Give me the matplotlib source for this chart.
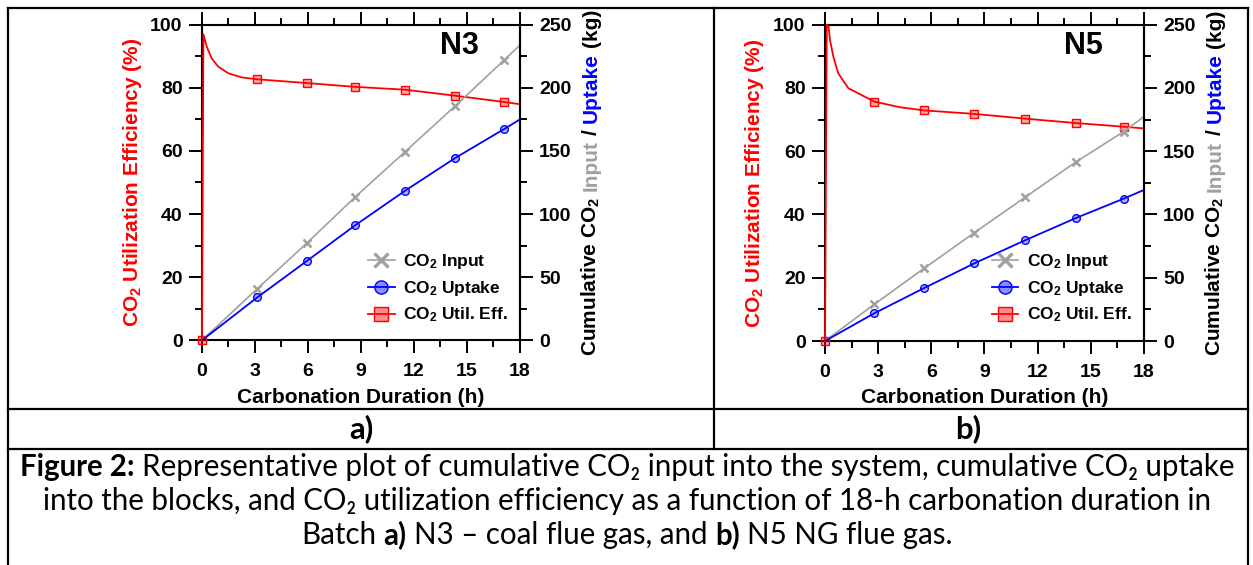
import matplotlib
matplotlib.use("Agg")
import matplotlib.pyplot as plt
from matplotlib.lines import Line2D
from matplotlib.ticker import MultipleLocator

# ---------------- data ----------------
# Batch N3 (coal flue gas)
n3_t_marks = [0, 3.13, 5.96, 8.67, 11.5, 14.33, 17.12]
n3_eff_marks = [0, 82.7, 81.5, 80.3, 79.4, 77.5, 75.5]
n3_input_line = [0, 40.9, 77.3, 113.5, 149.4, 185.6, 222.2, 233.9]
n3_uptake_line = [0, 34.0, 63.1, 91.1, 118.5, 144.4, 167.5, 175.0]
n3_eff_curve_t = [0, 0.08, 0.27, 0.55, 0.92, 1.49, 2.25, 3.13, 5.96, 8.67, 11.5, 14.33, 17.12, 18]
n3_eff_curve = [0, 97.0, 93.0, 89.3, 86.7, 84.6, 83.3, 82.7, 81.5, 80.3, 79.4, 77.5, 75.5, 74.8]

# Batch N5 (NG flue gas)
n5_t_marks = [0, 2.78, 5.6, 8.43, 11.29, 14.16, 16.85]
n5_eff_marks = [0, 75.7, 72.9, 71.8, 70.3, 68.9, 67.75]
n5_input_line = [0, 29.0, 57.5, 85.6, 113.6, 141.5, 165.5, 177.3]
n5_uptake_line = [0, 21.9, 41.9, 61.4, 79.6, 97.2, 112.5, 119.4]
n5_eff_curve_t = [0, 0.1, 0.2, 0.28, 0.47, 0.75, 1.32, 2.78, 4.23, 5.6, 8.43, 11.29, 14.16, 16.85, 18]
n5_eff_curve = [0, 100.0, 99.5, 95.2, 89.9, 84.6, 79.9, 75.7, 73.9, 72.9, 71.8, 70.3, 68.9, 67.75, 67.2]

t_end = 18
panel_tags = ["N3", "N5"]
panel_letters = ["a)", "b)"]
legend_labels = ["CO$_2$ Input", "CO$_2$ Uptake", "CO$_2$ Util. Eff."]
xlabel = "Carbonation Duration (h)"
ylabel_left = "CO$_2$ Utilization Efficiency (%)"

caption_lines = [
    [("Figure 2:", "bold"), None,
     ("Representative plot of cumulative CO\u2082 input into the system, cumulative CO\u2082 uptake", "normal")],
    [("into the blocks, and CO\u2082 utilization efficiency as a function of 18-h carbonation duration in", "normal")],
    [("Batch", "normal"), None, ("a)", "bold"), None, ("N3 \u2013 coal flue gas, and", "normal"), None,
     ("b)", "bold"), None, ("N5 NG flue gas.", "normal")],
]

# ---------------- style ----------------
plt.rcParams["font.family"] = ["Liberation Sans", "DejaVu Sans"]
plt.rcParams["font.weight"] = "bold"
plt.rcParams["mathtext.fontset"] = "custom"
plt.rcParams["mathtext.rm"] = "Liberation Sans:bold"
plt.rcParams["mathtext.bf"] = "Liberation Sans:bold"
plt.rcParams["mathtext.it"] = "Liberation Sans:bold"
plt.rcParams["mathtext.default"] = "rm"

RED = "#FF0000"
BLUE = "#0000FF"
GRAY = "#A0A0A0"
CAP_FONT = ["Lato", "DejaVu Sans"]

W, H = 1253, 565
fig = plt.figure(figsize=(W / 100, H / 100), dpi=100)
renderer = fig.canvas.get_renderer()


def measure(s, **kw):
    t = fig.text(0, 0, s, **kw)
    w = t.get_window_extent(renderer=renderer).width
    t.remove()
    return w


def adv(s, **kw):
    return measure("|" + s + "|", **kw) - measure("||", **kw)


def row_width(pieces, size, family):
    total = 0
    for p in pieces:
        if p is None:
            total += adv(" ", fontsize=size, family=family, fontweight="normal")
        else:
            total += adv(p[0], fontsize=size, family=family, fontweight=p[1])
    return total


def place_row(pieces, xc, ybase, size, family):
    total = row_width(pieces, size, family)
    x = xc - total / 2
    for p in pieces:
        if p is None:
            x += adv(" ", fontsize=size, family=family, fontweight="normal")
            continue
        fig.text(x / W, 1 - ybase / H, p[0], fontsize=size, family=family,
                 fontweight=p[1], ha="left", va="baseline")
        x += adv(p[0], fontsize=size, family=family, fontweight=p[1])


def place_col(pieces, xbase, yc, size):
    # rotated 90 deg text made of coloured pieces, reading bottom -> top
    advs = []
    for p in pieces:
        if p is None:
            advs.append(adv(" ", fontsize=size))
        else:
            advs.append(adv(p[0], fontsize=size))
    total = sum(advs)
    y = yc + total / 2
    for p, a in zip(pieces, advs):
        if p is not None:
            fig.text(xbase / W, 1 - y / H, p[0], fontsize=size, color=p[1],
                     rotation=90, rotation_mode="anchor", ha="left", va="baseline")
        y -= a


def line(x0, y0, x1, y1, lw=1.6):
    fig.add_artist(Line2D([x0 / W, x1 / W], [1 - y0 / H, 1 - y1 / H],
                          transform=fig.transFigure, color="black", lw=lw,
                          solid_capstyle="projecting"))


def panel(left_px, right_px, top_px, bottom_px, t_marks, eff_marks, input_line,
          uptake_line, eff_t, eff_v, tag):
    rect = [left_px / W, 1 - bottom_px / H, (right_px - left_px) / W, (bottom_px - top_px) / H]
    ax = fig.add_axes(rect)
    ax2 = ax.twinx()
    t_line = list(t_marks) + [t_end]

    # efficiency (left axis)
    ax.plot(eff_t, eff_v, color=RED, lw=1.3, zorder=3, clip_on=False)
    ax.plot(t_marks, eff_marks, ls="none", marker="s", ms=5.8, mew=1.0,
            mec=RED, mfc=(1, 0, 0, 0.35), zorder=4, clip_on=False)

    # cumulative input / uptake (right axis)
    ax2.plot(t_line, input_line, color=GRAY, lw=1.2, marker="x", ms=5.5, mew=1.8,
             markevery=slice(1, len(t_marks)))
    ax2.plot(t_line, uptake_line, color=BLUE, lw=1.3, marker="o", ms=5.5, mew=1.0,
             mec=BLUE, mfc=(0, 0, 1, 0.3), markevery=slice(1, len(t_marks)))

    ax.set_xlim(0, t_end)
    ax.set_ylim(0, 100)
    ax2.set_ylim(0, 250)
    ax.xaxis.set_major_locator(MultipleLocator(3))
    ax.xaxis.set_minor_locator(MultipleLocator(1.5))
    ax.yaxis.set_major_locator(MultipleLocator(20))
    ax.yaxis.set_minor_locator(MultipleLocator(10))
    ax2.yaxis.set_major_locator(MultipleLocator(50))
    ax2.yaxis.set_minor_locator(MultipleLocator(25))

    for a in (ax, ax2):
        a.tick_params(which="major", direction="out", length=9.4, width=1.4, labelsize=14)
        a.tick_params(which="minor", direction="out", length=5.0, width=1.4)
    ax.tick_params(axis="x", which="both", top=True, bottom=True, labeltop=False)
    ax.tick_params(axis="x", which="major", pad=7.0)
    ax.tick_params(axis="y", which="major", pad=4.6)
    ax2.tick_params(axis="y", which="major", pad=4.3)

    for s in ax.spines.values():
        s.set_linewidth(1.5)
    for k in ("left", "top", "bottom"):
        ax2.spines[k].set_visible(False)
    ax2.spines["right"].set_linewidth(1.5)

    ax.text(0.81, 0.933, tag, transform=ax.transAxes, ha="center", va="center",
            fontsize=22, fontweight="bold")

    handles = [
        Line2D([], [], color=GRAY, lw=1.2, marker="x", ms=9.5, mew=2.4),
        Line2D([], [], color=BLUE, lw=1.3, marker="o", ms=9.5, mew=1.0,
               mec=BLUE, mfc=(0, 0, 1, 0.45)),
        Line2D([], [], color=RED, lw=1.3, marker="s", ms=9.5, mew=1.0,
               mec=RED, mfc=(1, 0, 0, 0.45)),
    ]
    lx = 0.522
    ly = (bottom_px - 252) / (bottom_px - top_px)
    ax2.legend(handles, legend_labels, loc="upper left", bbox_to_anchor=(lx, ly),
               frameon=False, fontsize=12.5, handlelength=1.55, handletextpad=0.48,
               labelspacing=0.45, borderpad=0, borderaxespad=0)

    xc = (left_px + right_px) / 2
    yc = (top_px + bottom_px) / 2
    fig.text(xc / W, 1 - 402.7 / H, xlabel, ha="center", va="baseline", fontsize=15)
    fig.text((left_px - 70) / W, 1 - yc / H, ylabel_left, rotation=90, ha="center",
             va="center", fontsize=15, color=RED)
    place_col([("Cumulative CO$_2$", "black"), None, ("Input", GRAY), None, ("/", "black"),
               None, ("Uptake", BLUE), None, ("(kg)", "black")],
              right_px + 77, yc, 15)
    return ax, ax2


panel(202, 520, 24.7, 340.3, n3_t_marks, n3_eff_marks, n3_input_line, n3_uptake_line,
      n3_eff_curve_t, n3_eff_curve, panel_tags[0])
panel(825, 1144, 24.7, 341.0, n5_t_marks, n5_eff_marks, n5_input_line, n5_uptake_line,
      n5_eff_curve_t, n5_eff_curve, panel_tags[1])

# ---------------- table borders ----------------
line(8, 8, 1248, 8)
line(8, 8, 8, 565)
line(1248, 8, 1248, 565)
line(8, 409, 1248, 409)
line(8, 449, 1248, 449)
line(714, 8, 714, 449)

# ---------------- caption ----------------
w20 = row_width(caption_lines[0], 20, CAP_FONT)
cap_size = 20 * 1219 / w20
fig.text(361 / W, 1 - 429 / H, panel_letters[0], ha="center", va="center",
         fontsize=cap_size * 1.05, family=CAP_FONT, fontweight="bold")
fig.text(968 / W, 1 - 429 / H, panel_letters[1], ha="center", va="center",
         fontsize=cap_size * 1.05, family=CAP_FONT, fontweight="bold")
for ln, yb in zip(caption_lines, [476, 510, 544]):
    place_row(ln, 627, yb, cap_size, CAP_FONT)

fig.savefig("out.png", dpi=100)
